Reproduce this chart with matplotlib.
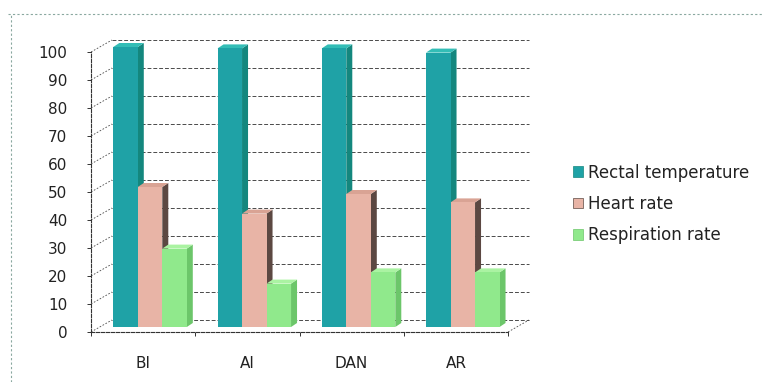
import matplotlib
matplotlib.use("Agg")
import matplotlib.pyplot as plt
from matplotlib.patches import Polygon, Patch
from matplotlib.lines import Line2D
import numpy as np

categories = ["BI", "AI", "DAN", "AR"]
series_names = ["Rectal temperature", "Heart rate", "Respiration rate"]
rectal_temperature = [100, 99.5, 99.5, 98]
heart_rate = [50, 40.5, 47.5, 44.5]
respiration_rate = [28, 15.5, 19.5, 19.5]
yticks = list(range(0, 101, 10))

series = [rectal_temperature, heart_rate, respiration_rate]
front_colors = ["#1fa2a6", "#e8b4a6", "#90e98c"]
side_colors = ["#14877e", "#5c4842", "#6cc66a"]
top_colors = ["#33bdb6", "#d9a394", "#aaf3a2"]

W, H = 762, 382
fig = plt.figure(figsize=(W / 100, H / 100), dpi=100)
# front plane of the 3D box
x0, x1, yb, yt = 91, 508, 332, 52
ax = fig.add_axes([x0 / W, 1 - yb / H, (x1 - x0) / W, (yb - yt) / H])
ax.set_xlim(-0.5, len(categories) - 0.5)
ax.set_ylim(0, 100)

pxx = (x1 - x0) / len(categories)
pxy = (yb - yt) / 100.0
# depth offsets (data units)
dxb, dyb = 21 / pxx, 12 / pxy      # back wall
dxp, dyp = 9 / pxx, 5 / pxy        # bar plane
dxd, dyd = 6 / pxx, 4 / pxy        # bar depth

gridc = "#4a4a4a"
# back wall gridlines and depth lines
for v in yticks:
    ax.plot([-0.5 + dxb, len(categories) - 0.5 + dxb], [v + dyb, v + dyb],
            color=gridc, lw=0.7, ls=(0, (4, 2)), clip_on=False, zorder=1)
    ax.plot([-0.5, -0.5 + dxb], [v, v + dyb], color=gridc, lw=0.6,
            ls=(0, (2, 2)), clip_on=False, zorder=1)
ax.plot([len(categories) - 0.5, len(categories) - 0.5 + dxb], [0, dyb],
        color=gridc, lw=0.6, ls=(0, (2, 2)), clip_on=False, zorder=1)

# bars
n = len(series)
bw = 0.235
x = np.arange(len(categories))
for s, vals in enumerate(series):
    offs = (s - 1) * bw - 0.02
    z = 3 + s
    bars = ax.bar(x + offs + dxp, vals, bw, bottom=dyp, color=front_colors[s],
                  edgecolor="none", zorder=z + 0.5, clip_on=False)
    for b in bars:
        xl = b.get_x()
        xr = xl + b.get_width()
        top = b.get_y() + b.get_height()
        bot = b.get_y()
        side = Polygon([(xr, bot), (xr + dxd, bot + dyd), (xr + dxd, top + dyd), (xr, top)],
                       closed=True, facecolor=side_colors[s], edgecolor="none",
                       zorder=z, clip_on=False)
        topf = Polygon([(xl, top), (xl + dxd, top + dyd), (xr + dxd, top + dyd), (xr, top)],
                       closed=True, facecolor=top_colors[s], edgecolor="none",
                       zorder=z, clip_on=False)
        ax.add_patch(side)
        ax.add_patch(topf)

# axes styling
for sp in ["top", "right"]:
    ax.spines[sp].set_visible(False)
for sp in ["left", "bottom"]:
    ax.spines[sp].set_color("#333333")
    ax.spines[sp].set_linewidth(0.8)
    ax.spines[sp].set_linestyle((0, (3, 1.5)))
ax.set_yticks(yticks)
ax.set_yticklabels([str(v) for v in yticks], fontsize=11, color="#222222")
ax.tick_params(axis="y", length=3, pad=14, width=0.7, color="#333333")
ax.set_xticks(x)
ax.set_xticklabels(categories, fontsize=11, color="#222222")
ax.tick_params(axis="x", which="major", length=0, pad=17)
ax.set_xticks(np.arange(len(categories) + 1) - 0.5, minor=True)
ax.tick_params(axis="x", which="minor", length=3, width=0.7, color="#333333")
ax.patch.set_alpha(0)

# outer dotted border (top and left)
fig.add_artist(Line2D([8 / W, 1], [1 - 14 / H, 1 - 14 / H], color="#8aa8a0", lw=0.8,
                      ls=(0, (2, 2)), transform=fig.transFigure))
fig.add_artist(Line2D([11 / W, 11 / W], [0, 1 - 14 / H], color="#8aa8a0", lw=0.8,
                      ls=(0, (2, 2)), transform=fig.transFigure))

handles = [Patch(facecolor=front_colors[i], edgecolor=side_colors[i], lw=0.5)
           for i in range(n)]
fig.legend(handles, series_names, loc="center left",
           bbox_to_anchor=(565 / W, 1 - 204 / H), frameon=False, fontsize=12,
           handlelength=0.6, handleheight=0.6, handletextpad=0.3,
           labelspacing=0.8, borderpad=0, labelcolor="#222222")

fig.savefig("out.png", dpi=100)
